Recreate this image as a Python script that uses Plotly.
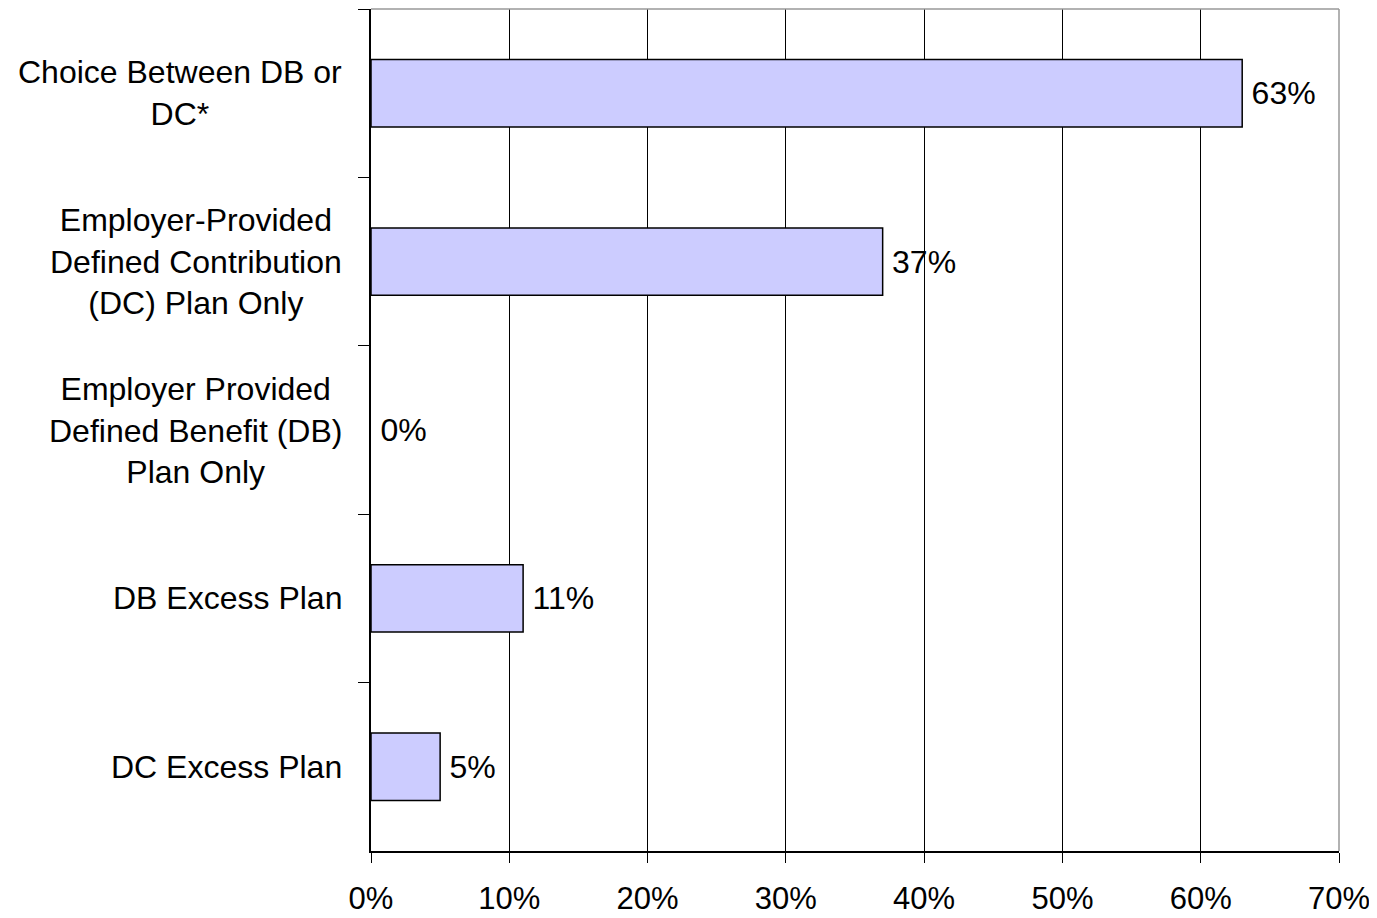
import plotly.graph_objects as go

categories = [
    "Choice Between DB or<br>DC*",
    "Employer-Provided<br>Defined Contribution<br>(DC) Plan Only",
    "Employer Provided<br>Defined Benefit (DB)<br>Plan Only",
    "DB Excess Plan",
    "DC Excess Plan",
]
values = [63, 37, 0, 11, 5]
x_ticks = [0, 10, 20, 30, 40, 50, 60, 70]

FONT = "Liberation Sans"
FS = 32

fig = go.Figure(
    go.Bar(
        y=categories,
        x=values,
        orientation="h",
        width=0.4,
        marker=dict(color="#CCCCFF",
                    line=dict(color="black", width=[1.5 if v > 0 else 0 for v in values])),
        text=[f"\u2009{v}%" for v in values],
        textposition="outside",
        textfont=dict(family=FONT, size=FS, color="black"),
        cliponaxis=False,
    )
)

for c in categories:
    fig.add_annotation(
        x=0, xref="paper", y=c, yref="y",
        text=c, showarrow=False,
        xanchor="right", yanchor="middle", align="center",
        xshift=-27,
        font=dict(family=FONT, size=FS, color="black"),
    )

# gray top and right borders
fig.add_shape(type="line", xref="paper", yref="paper", x0=0, x1=1, y0=1, y1=1,
              line=dict(color="#999999", width=1.5), layer="above")
fig.add_shape(type="line", xref="paper", yref="paper", x0=1, x1=1, y0=0, y1=1,
              line=dict(color="#999999", width=1.5), layer="above")

# page body adds an 8px offset; size the figure to fit the remaining window
fig.update_layout(
    width=1369, height=910,
    margin=dict(l=363, r=38, t=1, b=67, autoexpand=False),
    plot_bgcolor="white", paper_bgcolor="white",
    showlegend=False,
    font=dict(family=FONT, size=FS, color="black"),
    bargap=0.6,
)
fig.update_xaxes(
    range=[0, 70],
    tickvals=x_ticks,
    ticktext=[f"{t}%" for t in x_ticks],
    showgrid=True, gridcolor="black", gridwidth=1,
    zeroline=False, automargin=False,
    showline=True, linecolor="black", linewidth=1.5,
    ticks="outside", ticklen=10, tickcolor="black", tickwidth=1,
    ticklabelstandoff=9,
    tickfont=dict(family=FONT, size=31, color="black"),
)
fig.update_yaxes(
    categoryorder="array", categoryarray=categories,
    autorange="reversed", automargin=False,
    showticklabels=False,
    showgrid=False, zeroline=False,
    showline=True, linecolor="black", linewidth=1.5,
    ticks="outside", tickson="boundaries", ticklen=11, tickcolor="black", tickwidth=1,
)

fig.write_html("out.html")
